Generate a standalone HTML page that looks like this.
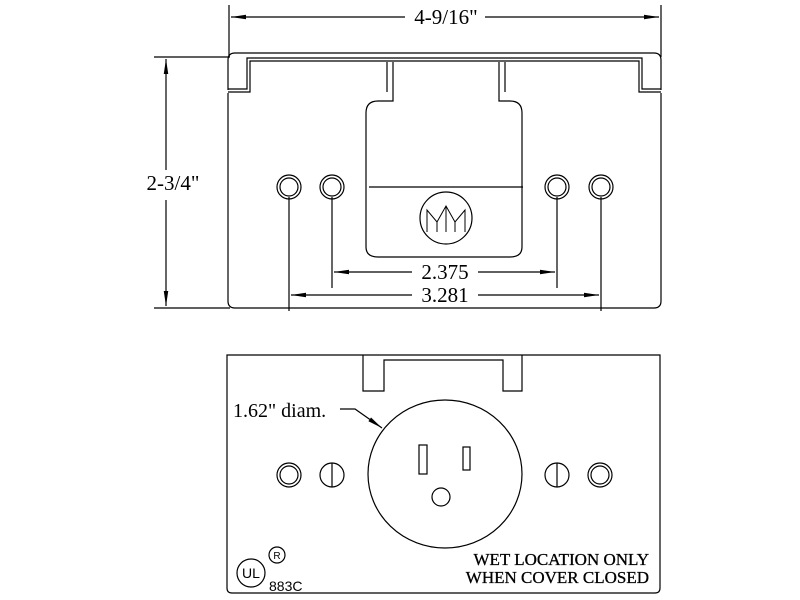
<!DOCTYPE html>
<html><head><style>
html,body{margin:0;padding:0;background:#fff;}
svg{display:block;}
text{font-family:"Liberation Serif",serif;fill:#000;}
</style></head><body>
<svg width="800" height="600" viewBox="0 0 800 600" xmlns="http://www.w3.org/2000/svg">
<defs>
<marker id="ar" viewBox="0 0 10 4" refX="10" refY="2" markerWidth="16" markerHeight="6" markerUnits="userSpaceOnUse" orient="auto"><path d="M0,0.5 L10,2 L0,3.5 Z" fill="#000"/></marker>
</defs>
<g fill="none" stroke="#000" stroke-width="1.2">
<line x1="229" y1="5" x2="229" y2="57"/>
<line x1="661" y1="5" x2="661" y2="57"/>
<line x1="405" y1="17" x2="231" y2="17" marker-end="url(#ar)"/>
<line x1="485" y1="17" x2="659" y2="17" marker-end="url(#ar)"/>
<line x1="154" y1="57" x2="230" y2="57"/>
<line x1="154" y1="308" x2="230" y2="308"/>
<line x1="166" y1="170" x2="166" y2="59" marker-end="url(#ar)"/>
<line x1="166" y1="200" x2="166" y2="306" marker-end="url(#ar)"/>
<path d="M228,90 L228,60 Q228,53 235,53 L654,53 Q661,53 661,60 L661,90"/>
<path d="M228,93 L228,301 Q228,308 235,308 L654,308 Q661,308 661,301 L661,93"/>
<path d="M228,89 L247,89 L247,58 L642,58 L642,89 L661,89"/>
<path d="M228,92 L250,92 L250,61 L639,61 L639,92 L661,92"/>
<path d="M387,92 L387,62 M393,62 L393,101 L378,101 Q366,101 366,113 L366,247 Q366,257 378,257 L510,257 Q522,257 522,247 L522,113 Q522,101 510,101 L499,101 L499,62 M505,62 L505,92"/>
<line x1="369" y1="187" x2="523" y2="187"/>
<circle cx="446" cy="218" r="26"/>
<path d="M427,232 V210 L437,222 L446,206 L455,222 L465,210 V232 M437,222 V232 M455,222 V232 M446,206 V232" stroke-width="1"/>
<circle cx="289" cy="187" r="12"/><circle cx="289" cy="187" r="9"/>
<circle cx="332" cy="187" r="12"/><circle cx="332" cy="187" r="9"/>
<circle cx="557" cy="187" r="12"/><circle cx="557" cy="187" r="9"/>
<circle cx="601" cy="187" r="12"/><circle cx="601" cy="187" r="9"/>
<line x1="289" y1="197" x2="289" y2="311"/>
<line x1="332" y1="197" x2="332" y2="288"/>
<line x1="557" y1="197" x2="557" y2="288"/>
<line x1="601" y1="197" x2="601" y2="311"/>
<line x1="412" y1="272" x2="334" y2="272" marker-end="url(#ar)"/>
<line x1="478" y1="272" x2="555" y2="272" marker-end="url(#ar)"/>
<line x1="412" y1="295" x2="291" y2="295" marker-end="url(#ar)"/>
<line x1="478" y1="295" x2="599" y2="295" marker-end="url(#ar)"/>
<path d="M227,355 L660,355 L660,588 Q660,593 655,593 L232,593 Q227,593 227,588 Z"/>
<path d="M363,355 L363,391 L384,391 L384,360 L503,360 L503,391 L522,391 L522,355"/>
<ellipse cx="445" cy="474" rx="77" ry="74"/>
<rect x="419" y="445" width="8" height="29"/>
<rect x="463" y="447" width="7" height="23"/>
<circle cx="441" cy="497" r="9"/>
<circle cx="289" cy="475" r="12"/><circle cx="289" cy="475" r="9"/>
<circle cx="332" cy="475" r="12"/><line x1="332" y1="463" x2="332" y2="487"/>
<circle cx="557" cy="475" r="12"/><line x1="557" y1="463" x2="557" y2="487"/>
<circle cx="600" cy="475" r="12"/><circle cx="600" cy="475" r="9"/>
<path d="M340,409 L355,409 L382,428" marker-end="url(#ar)"/>
<circle cx="251" cy="573" r="14"/>
<circle cx="277" cy="555" r="8"/>
</g>
<text x="446" y="24" font-size="21" text-anchor="middle">4-9/16"</text>
<text x="173" y="190" font-size="21" text-anchor="middle">2-3/4"</text>
<text x="445" y="279" font-size="21" text-anchor="middle">2.375</text>
<text x="445" y="302" font-size="21" text-anchor="middle">3.281</text>
<text x="233" y="417" font-size="20">1.62" diam.</text>
<text x="649" y="565" font-size="17" text-anchor="end" stroke="#000" stroke-width="0.3">WET LOCATION ONLY</text>
<text x="649" y="583" font-size="17" text-anchor="end" stroke="#000" stroke-width="0.3">WHEN COVER CLOSED</text>
<text x="251" y="578" font-size="14" text-anchor="middle" style="font-family:'Liberation Sans',sans-serif">UL</text>
<text x="277" y="559" font-size="10" text-anchor="middle" style="font-family:'Liberation Sans',sans-serif">R</text>
<text x="269" y="591" font-size="14" style="font-family:'Liberation Sans',sans-serif">883C</text>
</svg>
</body></html>
